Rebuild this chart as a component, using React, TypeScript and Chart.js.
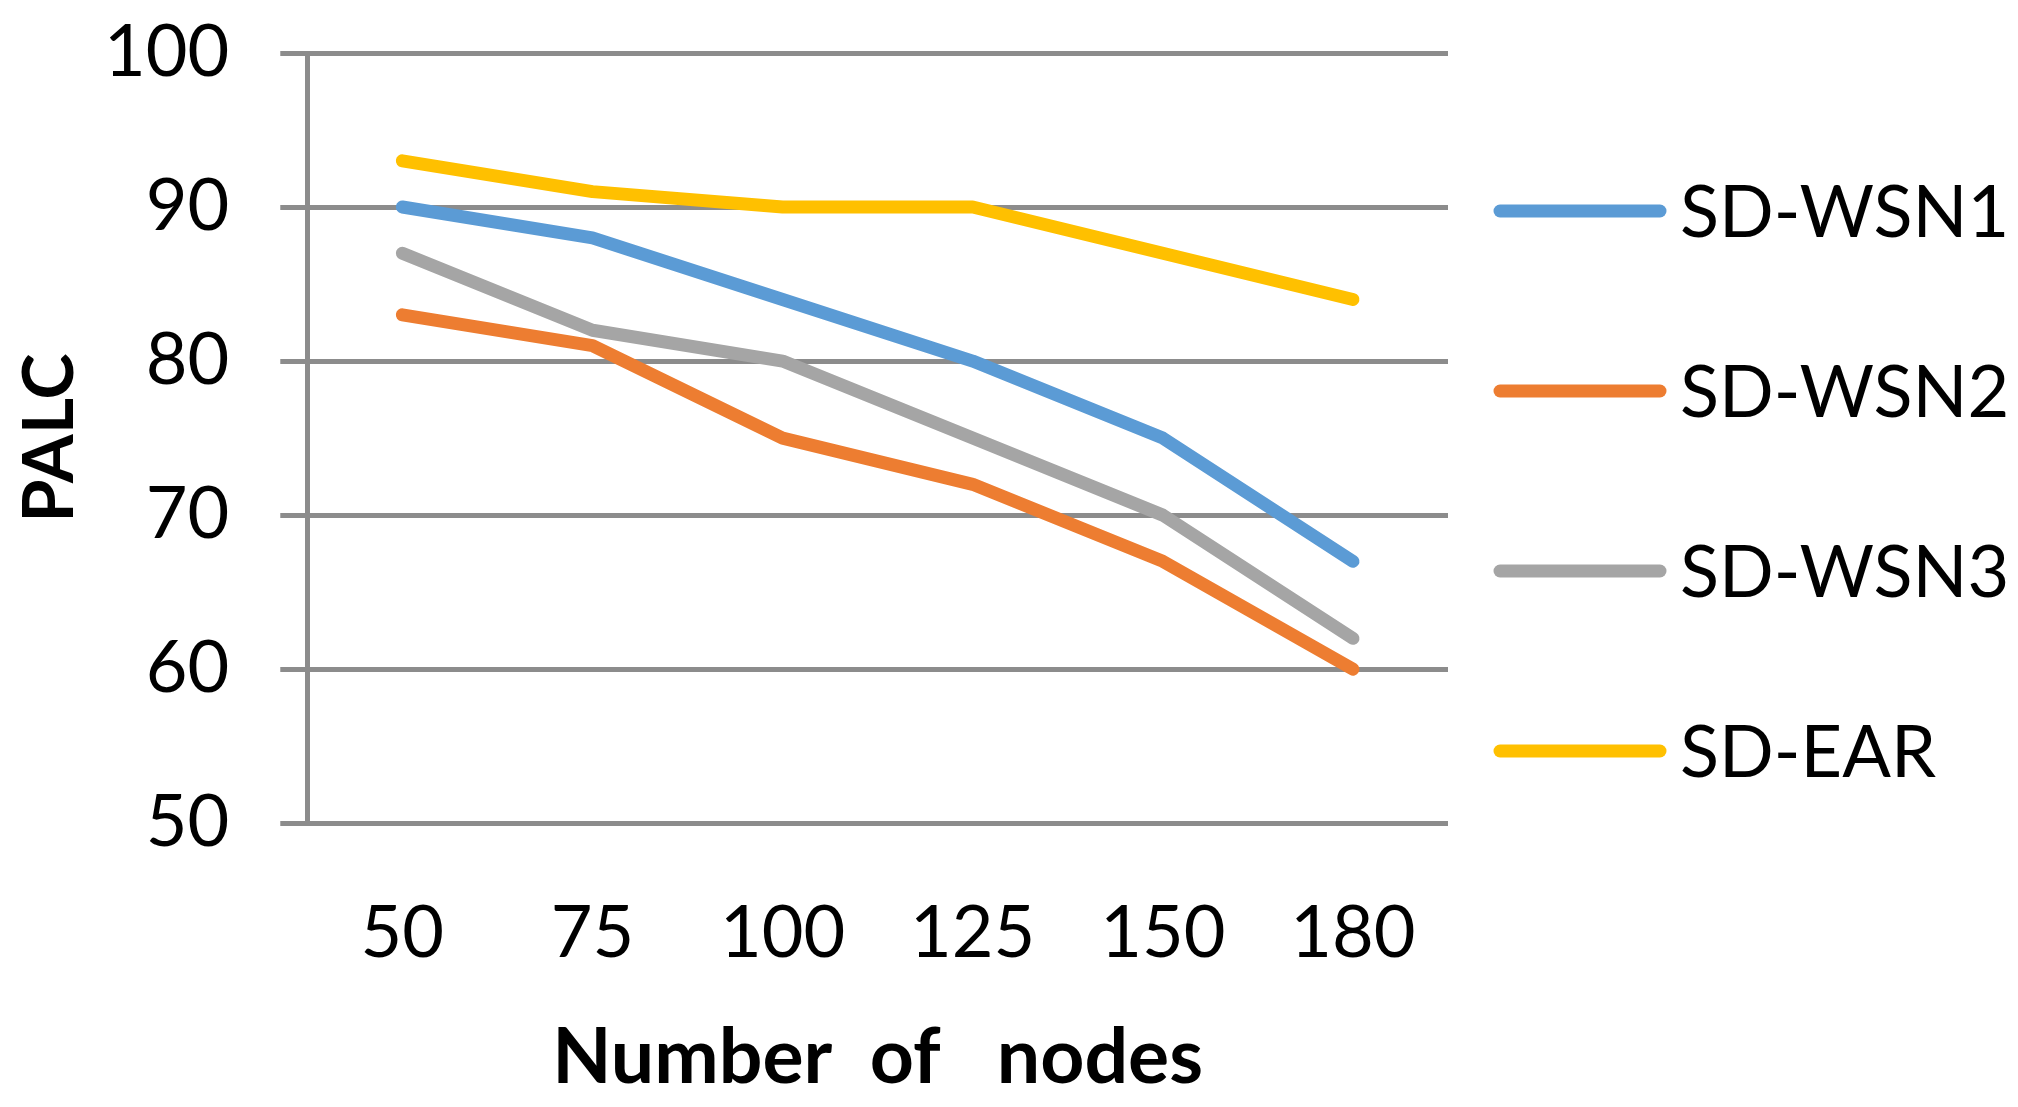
import React, { useEffect, useRef } from "react";
import { Chart, registerables } from "chart.js";

Chart.register(...registerables);

const categories = ["50", "75", "100", "125", "150", "180"];
const sdWsn1 = [90, 88, 84, 80, 75, 67];
const sdWsn2 = [83, 81, 75, 72, 67, 60];
const sdWsn3 = [87, 82, 80, 75, 70, 62];
const sdEar = [93, 91, 90, 90, 87, 84];
const seriesNames = ["SD-WSN1", "SD-WSN2", "SD-WSN3", "SD-EAR"];
const seriesColors = ["#5B9BD5", "#ED7D31", "#A5A5A5", "#FFC000"];
const yMin = 50;
const yMax = 100;
const yStep = 10;
const xTitle = "Number  of   nodes";
const yTitle = "PALC";

const FONT = "Lato";
const GRID = "#8C8C8C";

const sideLegend = {
  id: "sideLegend",
  afterDraw(chart: any) {
    const { ctx, chartArea } = chart;
    const lineStart = chartArea.right + 52;
    const lineEnd = lineStart + 160;
    const textX = lineEnd + 20;
    const firstY = chartArea.top + 158;
    const gap = 180;
    ctx.save();
    chart.data.datasets.forEach((ds: any, i: number) => {
      const y = firstY + i * gap;
      ctx.beginPath();
      ctx.strokeStyle = ds.borderColor;
      ctx.lineWidth = 13;
      ctx.lineCap = "round";
      ctx.moveTo(lineStart, y);
      ctx.lineTo(lineEnd, y);
      ctx.stroke();
      ctx.fillStyle = "#000";
      ctx.font = `72px ${FONT}`;
      ctx.textAlign = "left";
      ctx.textBaseline = "alphabetic";
      ctx.fillText(ds.label, textX, y + 26);
    });
    ctx.restore();
  },
};

export default function App() {
  const ref = useRef<HTMLCanvasElement | null>(null);

  useEffect(() => {
    if (!ref.current) return;
    const values = [sdWsn1, sdWsn2, sdWsn3, sdEar];
    const chart = new Chart(ref.current, {
      type: "line",
      data: {
        labels: categories,
        datasets: values.map((v, i) => ({
          label: seriesNames[i],
          data: v,
          borderColor: seriesColors[i],
          backgroundColor: seriesColors[i],
          borderWidth: 13,
          borderCapStyle: "round",
          borderJoinStyle: "round",
          pointRadius: 0,
          tension: 0,
          fill: false,
        })),
      },
      options: {
        animation: false,
        responsive: true,
        maintainAspectRatio: false,
        layout: { padding: { left: 0, right: 570, top: 53, bottom: 3 } },
        plugins: {
          legend: { display: false },
          tooltip: { enabled: false },
        },
        scales: {
          x: {
            offset: true,
            grid: { display: false, drawTicks: false },
            border: { display: false },
            ticks: {
              color: "#000",
              font: { family: FONT, size: 72 },
              padding: 67,
              maxRotation: 0,
              autoSkip: false,
            },
            title: {
              display: true,
              text: xTitle,
              color: "#000",
              font: { family: FONT, size: 77, weight: "bold" },
              padding: { top: -32, bottom: 0 },
            },
          },
          y: {
            min: yMin,
            max: yMax,
            ticks: {
              stepSize: yStep,
              color: "#000",
              font: { family: FONT, size: 72, lineHeight: 0.02 },
              padding: 51,
            },
            grid: {
              color: GRID,
              lineWidth: 5,
              drawTicks: true,
              tickLength: 27,
              tickColor: GRID,
            },
            border: { display: true, color: GRID, width: 5 },
            title: {
              display: true,
              text: yTitle,
              color: "#000",
              font: { family: FONT, size: 70, weight: "bold" },
              padding: { top: 8, bottom: -39 },
            },
          },
        },
      },
      plugins: [sideLegend],
    });
    return () => chart.destroy();
  }, []);

  return (
    <div style={{ position: "fixed", left: 0, top: 0, width: 2018, height: 1107, background: "#fff" }}>
      <canvas ref={ref} />
    </div>
  );
}
